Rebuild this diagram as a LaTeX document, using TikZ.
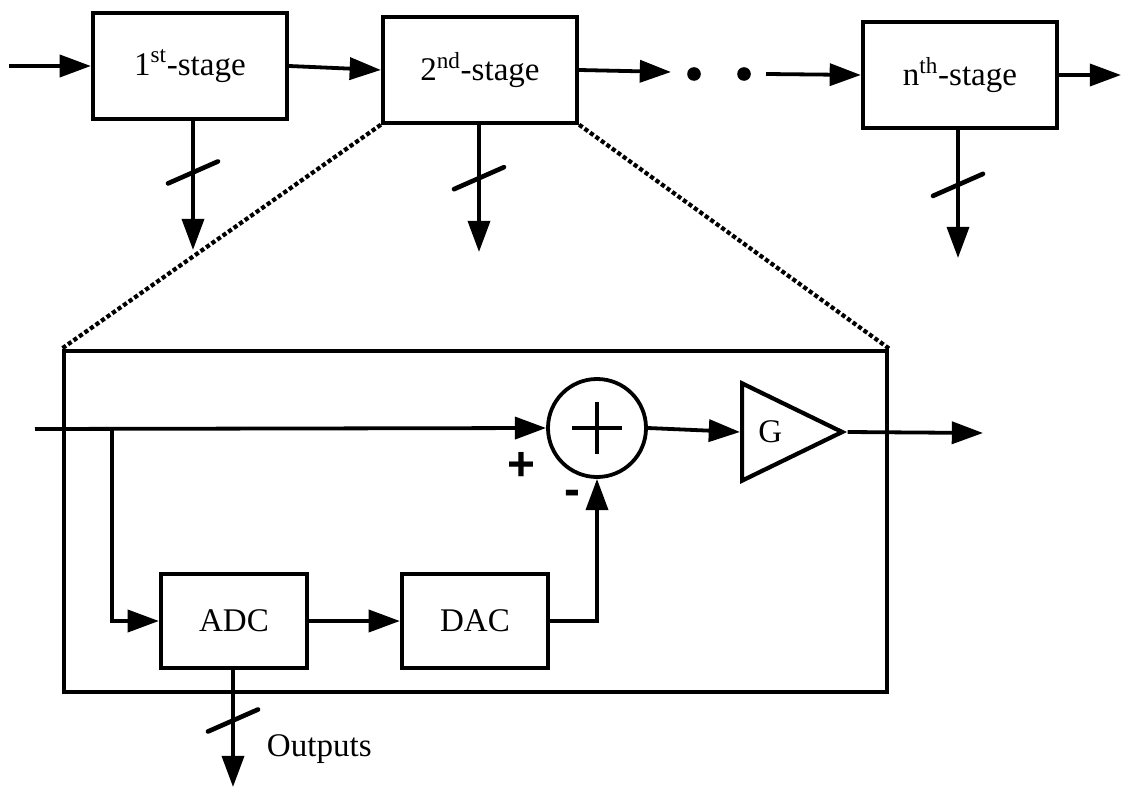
\documentclass[tikz,border=0pt]{standalone}
\usepackage{fontspec}
\setmainfont{Liberation Serif}
\setsansfont{Liberation Sans}
\usetikzlibrary{shapes.geometric, arrows.meta, positioning}

\begin{document}
\begin{tikzpicture}[x=0.025cm,y=-0.025cm,
  font=\fontsize{23.5}{26}\selectfont,
  stg/.style={draw,line width=3pt,minimum width=4.85cm,minimum height=2.63cm,
              inner sep=0pt},
  blk/.style={draw,line width=3pt,minimum width=3.65cm,minimum height=2.36cm,
              inner sep=0pt},
  arr/.style={-{Triangle[length=0.78cm,width=0.55cm]},line width=2.7pt},
  bus/.style={line width=3.3pt,line cap=round},
  zoomln/.style={line width=3pt,dash pattern=on 3pt off 1.8pt},
  dot/.style={circle,fill,inner sep=0pt,minimum size=0.34cm},
  sgn/.style={font=\fontsize{34}{34}\selectfont\sffamily\bfseries,inner sep=0pt}
]
  \useasboundingbox (0,0) rectangle (1122,787);
  % pipeline of stages
  \node[stg] (s1) at (190,66) {1\textsuperscript{st}-stage};
  \node[stg] (s2) at (480,70) {2\textsuperscript{nd}-stage};
  \node[stg] (sn) at (960,75) {n\textsuperscript{th}-stage};
  \node[dot] (d1) at (694,74) {};
  \node[dot] (d2) at (744,74) {};
  \coordinate (in) at (9,66);
  \coordinate (e1) at (671,72);
  \coordinate (e2) at (766,74);
  \coordinate (out) at (1121,75);
  \coordinate (o1) at (193,250);
  \coordinate (o2) at (479,252);
  \coordinate (on) at (958,258);
  \draw[arr] (in) -- (s1.west);
  \draw[arr] (s1.east) -- (s2.west);
  \draw[arr] (s2.east) -- (e1);
  \draw[arr] (e2) -- (sn.west);
  \draw[arr] (sn.east) -- (out);
  \foreach \s/\o/\p in {s1/o1/0.4,s2/o2/0.42,sn/on/0.43}{
    \draw[arr] (\s.south-|\o) -- coordinate[pos=\p] (\s-b) (\o);
    \draw[bus] ([shift={(-25,11)}]\s-b) -- ([shift={(25,-11)}]\s-b);
  }

  % zoomed view of one stage
  \node[draw,line width=3pt,minimum width=20.58cm,minimum height=8.53cm,
        inner sep=0pt] (zoom) at (475.5,521.5) {};
  \draw[zoomln] (s2.south west) -- (zoom.north west);
  \draw[zoomln] (s2.south east) -- (zoom.north east);

  \node[circle,draw,line width=2.7pt,minimum size=2.45cm,inner sep=0pt] (sum) at (597,428) {};
  \draw[line width=3.5pt] ([xshift=-0.63cm]sum.center) -- ([xshift=0.63cm]sum.center);
  \draw[line width=3.5pt] ([yshift=-0.65cm]sum.center) -- ([yshift=0.65cm]sum.center);
  \node[isosceles triangle,isosceles triangle stretches,draw,line width=3pt,
        minimum width=2.43cm,minimum height=2.5cm,inner sep=0pt,anchor=west]
        (amp) at (740,432) {G};
  \node[blk] (adc) at (234,621) {ADC};
  \node[blk] (dac) at (475,621) {DAC};
  \node[sgn] (plus) at (521,466) {+};
  \node[sgn] (minus) at (572,498) {-};

  \coordinate (in2) at (35,429);
  \coordinate (br) at (112,429);
  \coordinate (out2) at (983,433);
  \coordinate (o4) at (233,787);
  \draw[arr] (in2) -- (sum.west);
  \draw[arr] (br) |- (adc.west);
  \draw[arr] (adc.east) -- (dac.west);
  \draw[arr] (dac.east) -| (sum.south);
  \draw[arr] (sum.east) -- (amp.west);
  \draw[arr] (amp.apex) -- (out2);
  \draw[arr] (adc.south-|o4) -- coordinate[pos=0.43] (adc-b) (o4);
  \draw[bus] ([shift={(-25,11)}]adc-b) -- ([shift={(25,-11)}]adc-b);
  \node[anchor=west] (outlbl) at (262,749) {Outputs};
\end{tikzpicture}
\end{document}
